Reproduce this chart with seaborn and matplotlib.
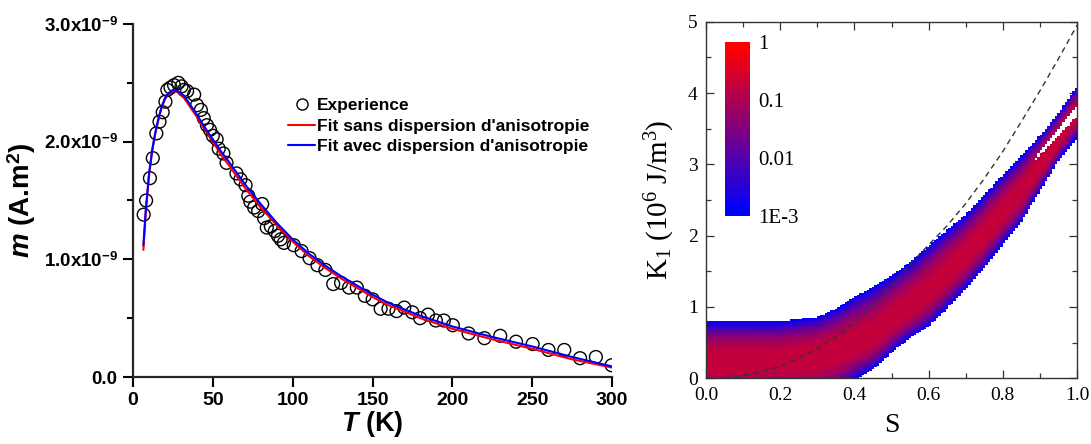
import numpy as np
import matplotlib
matplotlib.use('Agg')
import matplotlib.pyplot as plt
import seaborn as sns
from matplotlib.colors import LinearSegmentedColormap, LogNorm
from matplotlib.lines import Line2D
from matplotlib.ticker import NullLocator

# ---- left panel data: m(T), in units of 1e-9 A.m2
T_exp = [6.7, 8.2, 10.6, 12.4, 14.6, 16.6, 18.6, 20.3, 21.5, 23.5, 25.7, 28.4, 30.4, 31.9,
         33.9, 38.3, 40.1, 42.5, 44.3, 46.3, 48.2, 50.0, 52.4, 53.7, 56.6, 58.6, 64.8, 67.3,
         70.5, 72.2, 73.5, 75.9, 78.4, 80.9, 82.1, 83.8, 86.3, 88.8, 90.8, 92.5, 94.5, 100.7,
         105.6, 110.6, 115.5, 120.5, 125.4, 130.3, 135.3, 140.2, 145.2, 150.1, 155.1, 160.0,
         165.0, 169.9, 174.9, 179.8, 184.8, 189.7, 194.7, 200.3, 210.2, 220.1, 230.0, 239.9,
         250.3, 260.2, 270.1, 280.0, 289.9, 299.8]
m_exp = [1.38, 1.50, 1.69, 1.86, 2.07, 2.17, 2.25, 2.34, 2.44, 2.46, 2.48, 2.50, 2.47, 2.44,
         2.43, 2.40, 2.31, 2.27, 2.20, 2.14, 2.10, 2.05, 2.02, 1.94, 1.90, 1.82, 1.73, 1.68,
         1.63, 1.54, 1.49, 1.44, 1.41, 1.47, 1.35, 1.27, 1.28, 1.24, 1.20, 1.17, 1.14, 1.12,
         1.07, 1.01, 0.95, 0.91, 0.79, 0.80, 0.76, 0.76, 0.69, 0.66, 0.58, 0.58,
         0.56, 0.59, 0.55, 0.50, 0.53, 0.48, 0.48, 0.44, 0.37, 0.33, 0.35, 0.30,
         0.28, 0.23, 0.23, 0.16, 0.17, 0.10]

T_fit = [6.5, 8, 10, 12, 14, 16, 18, 20, 22, 25, 28, 32, 36, 40, 45, 50, 55, 60, 70, 80,
         90, 100, 110, 120, 130, 140, 150, 160, 180, 200, 225, 250, 275, 300]
m_fit_sans = [1.08, 1.40, 1.71, 1.92, 2.07, 2.19, 2.29, 2.36, 2.40, 2.43, 2.42, 2.37, 2.29,
              2.21, 2.10, 2.00, 1.89, 1.80, 1.61, 1.44, 1.29, 1.15, 1.03, 0.93, 0.84, 0.76,
              0.68, 0.61, 0.50, 0.41, 0.32, 0.24, 0.15, 0.08]
m_fit_avec = [1.12, 1.42, 1.72, 1.93, 2.08, 2.20, 2.30, 2.37, 2.41, 2.44, 2.43, 2.39, 2.31,
              2.23, 2.12, 2.02, 1.92, 1.83, 1.64, 1.47, 1.31, 1.17, 1.05, 0.95, 0.86, 0.78,
              0.70, 0.63, 0.52, 0.43, 0.34, 0.26, 0.17, 0.09]

# ---- right panel data: distribution band of K1 vs S
S_band = [0.0, 0.1, 0.2, 0.3, 0.35, 0.4, 0.45, 0.5, 0.55, 0.6, 0.65, 0.7, 0.75, 0.8, 0.85, 0.9, 0.95, 1.0]
K_low = [-0.3, -0.3, -0.3, -0.3, -0.2, -0.02, 0.12, 0.36, 0.56, 0.72, 0.98, 1.25, 1.55, 1.88, 2.2, 2.62, 3.05, 3.38]
K_ridge = [0.22, 0.22, 0.25, 0.3, 0.38, 0.48, 0.6, 0.82, 1.0, 1.22, 1.47, 1.73, 2.02, 2.32, 2.62, 2.98, 3.36, 3.75]
K_high = [0.8, 0.8, 0.8, 0.86, 0.98, 1.14, 1.28, 1.44, 1.63, 1.86, 2.08, 2.3, 2.57, 2.85, 3.12, 3.4, 3.72, 4.1]
S_gap = [0.88, 0.9, 0.95, 1.0]
K_gap = [3.0, 3.15, 3.45, 3.75]
gap_half = [0.0, 0.025, 0.05, 0.07]
peak_value = 0.2

S_dash = [0.05, 0.1, 0.15, 0.2, 0.25, 0.3, 0.35, 0.4, 0.45, 0.5, 0.55, 0.6, 0.65, 0.7,
          0.75, 0.8, 0.85, 0.9, 0.95, 1.0]
K_dash = [0.0, 0.04, 0.09, 0.17, 0.28, 0.42, 0.58, 0.78, 1.02, 1.3, 1.6, 1.87, 2.14, 2.45,
          2.8, 3.18, 3.6, 4.03, 4.48, 4.95]

cb_ticks = [1e-3, 1e-2, 1e-1, 1]
cb_labels = ['1E-3', '0.01', '0.1', '1']

sns.set_style('ticks')
plt.rcParams['font.family'] = ['Liberation Sans', 'DejaVu Sans']
plt.rcParams['mathtext.fontset'] = 'custom'
plt.rcParams['mathtext.rm'] = 'Liberation Serif'
plt.rcParams['mathtext.it'] = 'Liberation Serif:italic'
plt.rcParams['mathtext.bf'] = 'Liberation Sans:bold'
plt.rcParams['mathtext.bfit'] = 'Liberation Sans:italic:bold'
for key in ['text.color', 'axes.labelcolor', 'xtick.color', 'ytick.color']:
    plt.rcParams[key] = 'black'

W, H = 1091, 444
fig = plt.figure(figsize=(W / 100, H / 100), dpi=100)
ax1 = fig.add_axes([133 / W, 1 - 377 / H, 479 / W, 353 / H])
ax2 = fig.add_axes([706 / W, 1 - 378.3 / H, 371 / W, 356.6 / H])

# ---------------- left panel
sns.scatterplot(x=T_exp, y=m_exp, ax=ax1, marker='o', s=85, facecolor='none',
                edgecolor='black', linewidth=1.0, legend=False, zorder=2)
sns.lineplot(x=T_fit, y=m_fit_sans, ax=ax1, color='red', lw=1.5, legend=False, zorder=3)
sns.lineplot(x=T_fit, y=m_fit_avec, ax=ax1, color='blue', lw=1.5, legend=False, zorder=4)

ax1.set_xlim(0, 300)
ax1.set_ylim(0, 3)
ax1.set_xticks(range(0, 301, 50))
ax1.set_xticklabels([str(v) for v in range(0, 301, 50)], fontweight='bold', fontsize=14)
ax1.set_yticks([0, 1, 2, 3])
ax1.set_yticklabels(['0.0'] + ['%d.0x10$^{\\mathbf{-9}}$' % v for v in (1, 2, 3)],
                    fontweight='bold', fontsize=13.5)
ax1.set_yticks([0.5, 1.5, 2.5], minor=True)
for s in ['top', 'right']:
    ax1.spines[s].set_visible(False)
for s in ['left', 'bottom']:
    ax1.spines[s].set_linewidth(1.6)
ax1.tick_params(which='major', direction='out', length=7, width=1.5, pad=4)
ax1.tick_params(which='minor', direction='out', length=4, width=1.5)
ax1.set_xlabel('$\\mathbfit{T}$ (K)', fontsize=19.5, fontweight='bold', labelpad=0)
ax1.set_ylabel('$\\mathbfit{m}$ (A.m$^{\\mathbf{2}}$)', fontsize=20, fontweight='bold', labelpad=4)

handles = [Line2D([], [], marker='o', ls='none', mfc='none', mec='black', ms=8, mew=1),
           Line2D([], [], color='red', lw=1.5),
           Line2D([], [], color='blue', lw=1.5)]
ax1.legend(handles, ['Experience', "Fit sans dispersion d'anisotropie",
                     "Fit avec dispersion d'anisotropie"],
           loc='upper left', bbox_to_anchor=(0.323, 0.79), frameon=False,
           prop={'weight': 'bold', 'size': 12.5}, handlelength=1.6, handletextpad=0.1,
           labelspacing=0.3, borderpad=0, borderaxespad=0)

# ---------------- right panel
s_edges = np.linspace(0, 1, 151)
k_edges = np.linspace(0, 5, 231)
sc = 0.5 * (s_edges[1:] + s_edges[:-1])
kc = 0.5 * (k_edges[1:] + k_edges[:-1])
SS, KK = np.meshgrid(sc, kc)
lo = np.interp(SS, S_band, K_low)
mid = np.interp(SS, S_band, K_ridge)
hi = np.interp(SS, S_band, K_high)
d = np.where(KK < mid, (mid - KK) / (mid - lo), (KK - mid) / (hi - mid))
logv = np.log10(peak_value) - (np.log10(peak_value) + 3) * np.clip(d, 0, None) ** 2.4
gmid = np.interp(SS, S_gap, K_gap, left=0)
ghalf = np.interp(SS, S_gap, gap_half, left=0)
mask = (d > 1) | (np.abs(KK - gmid) < ghalf)
vals = np.ma.masked_where(mask, 10 ** logv)

cmap = LinearSegmentedColormap.from_list('blue_red', ['#0000ff', '#ff0000'], N=18)
norm = LogNorm(vmin=1e-3, vmax=1)
mesh = ax2.pcolormesh(s_edges, k_edges, vals, cmap=cmap, norm=norm, shading='flat',
                      rasterized=True, zorder=1)
sns.lineplot(x=S_dash, y=K_dash, ax=ax2, color='#333333', lw=1.0, dashes=False,
             linestyle=(0, (4, 3)), legend=False, zorder=3)

ax2.set_xlim(0, 1)
ax2.set_ylim(0, 5)
ax2.set_xticks([0, 0.2, 0.4, 0.6, 0.8, 1.0])
ax2.set_xticklabels(['0.0', '0.2', '0.4', '0.6', '0.8', '1.0'],
                    fontfamily='Liberation Serif', fontsize=14)
ax2.set_yticks([0, 1, 2, 3, 4, 5])
ax2.set_yticklabels(['0', '1', '2', '3', '4', '5'], fontfamily='Liberation Serif', fontsize=14)
ax2.set_xticks(np.arange(0.1, 1.0, 0.2), minor=True)
ax2.set_yticks(np.arange(0.5, 5, 1.0), minor=True)
ax2.tick_params(which='both', direction='in', top=True, right=True, color='#333333')
ax2.tick_params(which='major', length=6, width=0.9, pad=6)
ax2.tick_params(which='minor', length=3.5, width=0.9)
for s in ax2.spines.values():
    s.set_linewidth(1.0)
    s.set_color('#333333')
ax2.set_xlabel('S', fontfamily='Liberation Serif', fontsize=20, labelpad=7)
ax2.set_ylabel('K$_\\mathrm{1}$ (10$^\\mathrm{6}$ J/m$^\\mathrm{3}$)',
               fontfamily='Liberation Serif', fontsize=21, labelpad=8)

cax = fig.add_axes([725 / W, 1 - 216 / H, 25 / W, 174 / H])
cb = fig.colorbar(mesh, cax=cax)
cb.set_ticks(cb_ticks, labels=cb_labels)
cb.ax.yaxis.set_minor_locator(NullLocator())
cb.outline.set_visible(False)
cb.ax.tick_params(length=0, pad=6, labelsize=15)
for lab in cb.ax.get_yticklabels():
    lab.set_fontfamily('Liberation Serif')

fig.savefig('out.png', dpi=100)
